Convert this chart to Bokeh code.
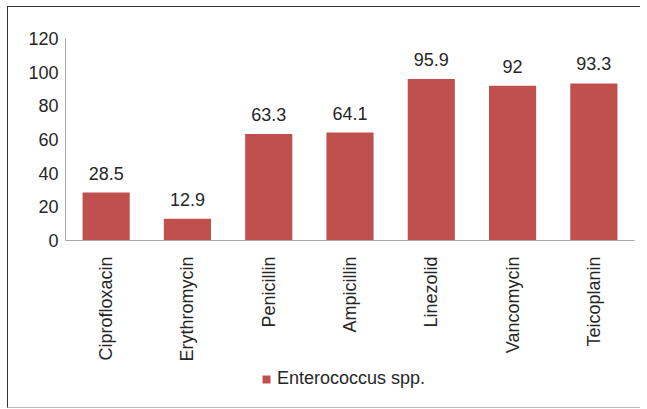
from bokeh.plotting import figure
from bokeh.layouts import column
from bokeh.models import ColumnDataSource, FactorRange, Range1d, FixedTicker, LabelSet, Legend, LegendItem
from bokeh.core.properties import value
from bokeh.embed import file_html
from bokeh.resources import INLINE
import math

categories = ["Ciprofloxacin", "Erythromycin", "Penicillin", "Ampicillin", "Linezolid", "Vancomycin", "Teicoplanin"]
values = [28.5, 12.9, 63.3, 64.1, 95.9, 92, 93.3]
value_labels = ["28.5", "12.9", "63.3", "64.1", "95.9", "92", "93.3"]
series_name = "Enterococcus spp."
y_ticks = [0, 20, 40, 60, 80, 100, 120]

FONT = "Liberation Sans"
TXT = "#262626"
BAR = "#C0504D"

src = ColumnDataSource(dict(cat=categories, val=values, lab=value_labels))

p = figure(width=632, height=359, x_range=FactorRange(*categories, range_padding=0),
           y_range=Range1d(0, 120), output_backend="svg", toolbar_location=None,
           min_border_left=57, min_border_right=6, min_border_top=31, min_border_bottom=126)
p.outline_line_color = None
p.xgrid.grid_line_color = None
p.ygrid.grid_line_color = None

r = p.vbar(x="cat", top="val", width=0.58, source=src, fill_color=BAR, line_color=None)

labels = LabelSet(x="cat", y="val", text="lab", source=src, text_align="center",
                  text_baseline="alphabetic", y_offset=13, text_font=value(FONT),
                  text_font_size="18px", text_color=TXT)
p.add_layout(labels)

for ax in (p.xaxis[0], p.yaxis[0]):
    ax.axis_line_color = "#A6A6A6"
    ax.major_tick_line_color = None
    ax.minor_tick_line_color = None
    ax.major_tick_out = 0
    ax.major_tick_in = 0
    ax.major_label_text_font = FONT
    ax.major_label_text_font_size = "18px"
    ax.major_label_text_color = TXT

p.yaxis[0].ticker = FixedTicker(ticks=y_ticks)
p.yaxis[0].major_label_standoff = 7
p.xaxis[0].major_label_orientation = math.pi / 2
p.xaxis[0].major_label_standoff = 16

# legend strip below the chart (same series drawn out of view, only its key shows)
lg = figure(width=632, height=41, output_backend="svg", toolbar_location=None,
            x_axis_type=None, y_axis_type=None, min_border=0,
            x_range=FactorRange(*categories), y_range=Range1d(500, 501))
lg.outline_line_color = None
lg.xgrid.grid_line_color = None
lg.ygrid.grid_line_color = None
key = lg.vbar(x="cat", top="val", width=0.58, source=src, fill_color=BAR, line_color=None)
legend = Legend(items=[LegendItem(label=series_name, renderers=[key])], location=(196, 18),
                orientation="horizontal", label_text_font=FONT, label_text_font_size="18px",
                label_text_color=TXT, glyph_width=10, glyph_height=10, label_standoff=6,
                border_line_color=None, background_fill_alpha=0, padding=0, margin=0)
lg.add_layout(legend)

layout = column(p, lg, spacing=0)
layout.styles = {"border-top": "1px solid #333", "border-left": "1px solid #333",
                 "border-bottom": "1px solid #bbb", "margin-left": "7px", "margin-top": "6px"}

open("out.html", "w").write(file_html(layout, INLINE))
